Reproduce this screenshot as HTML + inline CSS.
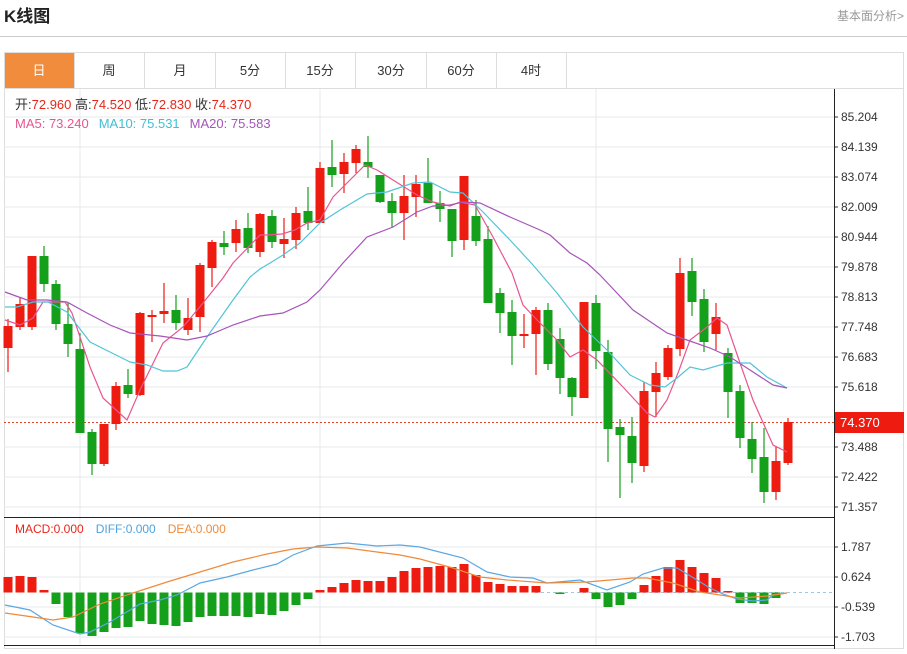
<!DOCTYPE html>
<html><head><meta charset="utf-8"><style>
body{margin:0;background:#fff;width:907px;height:649px;overflow:hidden;font-family:"Liberation Sans","Noto Sans CJK SC",sans-serif;}
</style></head><body>
<svg width="907" height="649" xmlns="http://www.w3.org/2000/svg" font-family="Liberation Sans, Noto Sans CJK SC, sans-serif">
<text x="4" y="22" font-size="17" font-weight="bold" fill="#222">K线图</text>
<text x="904" y="20" font-size="12" fill="#999" text-anchor="end">基本面分析&gt;</text>
<line x1="0" y1="36.5" x2="907" y2="36.5" stroke="#ccc"/>
<rect x="4.5" y="52.5" width="899" height="596" fill="none" stroke="#ddd"/>
<line x1="4" y1="88.5" x2="904" y2="88.5" stroke="#ddd"/>
<rect x="5" y="53" width="69" height="35" fill="#f18c3c"/>
<g stroke="#ddd"><line x1="74.5" y1="52" x2="74.5" y2="88"/><line x1="144.5" y1="52" x2="144.5" y2="88"/><line x1="215.5" y1="52" x2="215.5" y2="88"/><line x1="285.5" y1="52" x2="285.5" y2="88"/><line x1="355.5" y1="52" x2="355.5" y2="88"/><line x1="426.5" y1="52" x2="426.5" y2="88"/><line x1="496.5" y1="52" x2="496.5" y2="88"/><line x1="566.5" y1="52" x2="566.5" y2="88"/></g>
<g font-size="13" text-anchor="middle" fill="#333"><text x="39" y="75" fill="#fff">日</text><text x="109" y="75">周</text><text x="180" y="75">月</text><text x="250" y="75">5分</text><text x="320" y="75">15分</text><text x="391" y="75">30分</text><text x="461" y="75">60分</text><text x="531" y="75">4时</text></g>
<g stroke="#e6eaee"><line x1="4" y1="117" x2="834" y2="117"/><line x1="4" y1="147" x2="834" y2="147"/><line x1="4" y1="177" x2="834" y2="177"/><line x1="4" y1="207" x2="834" y2="207"/><line x1="4" y1="237" x2="834" y2="237"/><line x1="4" y1="267" x2="834" y2="267"/><line x1="4" y1="297" x2="834" y2="297"/><line x1="4" y1="327" x2="834" y2="327"/><line x1="4" y1="357" x2="834" y2="357"/><line x1="4" y1="387" x2="834" y2="387"/><line x1="4" y1="417" x2="834" y2="417"/><line x1="4" y1="447" x2="834" y2="447"/><line x1="4" y1="477" x2="834" y2="477"/><line x1="4" y1="507" x2="834" y2="507"/>
<line x1="4" y1="547" x2="834" y2="547"/><line x1="4" y1="577" x2="834" y2="577"/><line x1="4" y1="607" x2="834" y2="607"/><line x1="4" y1="637" x2="834" y2="637"/>
<line x1="80" y1="89" x2="80" y2="645"/><line x1="320" y1="89" x2="320" y2="645"/><line x1="596" y1="89" x2="596" y2="645"/></g>
<g font-size="12" fill="#333"><text x="841" y="121">85.204</text><text x="841" y="151">84.139</text><text x="841" y="181">83.074</text><text x="841" y="211">82.009</text><text x="841" y="241">80.944</text><text x="841" y="271">79.878</text><text x="841" y="301">78.813</text><text x="841" y="331">77.748</text><text x="841" y="361">76.683</text><text x="841" y="391">75.618</text><text x="841" y="421">74.553</text><text x="841" y="451">73.488</text><text x="841" y="481">72.422</text><text x="841" y="511">71.357</text>
<text x="841" y="551">1.787</text><text x="841" y="581">0.624</text><text x="841" y="611">-0.539</text><text x="841" y="641">-1.703</text></g>
<g stroke="#333"><line x1="834" y1="117" x2="838" y2="117"/><line x1="834" y1="147" x2="838" y2="147"/><line x1="834" y1="177" x2="838" y2="177"/><line x1="834" y1="207" x2="838" y2="207"/><line x1="834" y1="237" x2="838" y2="237"/><line x1="834" y1="267" x2="838" y2="267"/><line x1="834" y1="297" x2="838" y2="297"/><line x1="834" y1="327" x2="838" y2="327"/><line x1="834" y1="357" x2="838" y2="357"/><line x1="834" y1="387" x2="838" y2="387"/><line x1="834" y1="447" x2="838" y2="447"/><line x1="834" y1="477" x2="838" y2="477"/><line x1="834" y1="507" x2="838" y2="507"/><line x1="834" y1="547" x2="838" y2="547"/><line x1="834" y1="577" x2="838" y2="577"/><line x1="834" y1="607" x2="838" y2="607"/><line x1="834" y1="637" x2="838" y2="637"/></g>
<line x1="834.5" y1="89" x2="834.5" y2="649" stroke="#222"/>
<line x1="4" y1="517.5" x2="834" y2="517.5" stroke="#222"/>
<line x1="4" y1="645.5" x2="834" y2="645.5" stroke="#222"/>
<line x1="4" y1="422.5" x2="834" y2="422.5" stroke="#e8402e" stroke-dasharray="2,2"/>
<rect x="835" y="412" width="69" height="21" fill="#ee1c10"/>
<text x="840" y="427" font-size="13" fill="#fff">74.370</text>
<line x1="535" y1="592.5" x2="834" y2="592.5" stroke="#9cc8e8" stroke-dasharray="3,3"/>
<g id="candles"></g>
<g id="macd"></g>
<polyline fill="none" stroke="#e9558f" stroke-width="1.2" points="5,320 20,325 33,318 43,302 65,302 72,313 90,367 103,398 127,420 140,390 163,343 183,327 203,303 223,278 233,263 260,235 267,235 282,234 295,230 307,223 320,220 333,197 353,177 365,165 377,170 393,180 417,195 433,202 450,206 460,202 475,205 493,237 512,273 523,305 537,320 557,340 570,357 583,350 597,360 623,387 647,413 655,417 667,400 678,373 690,340 707,327 717,318 727,325 740,363 753,400 773,445 787,452"/>
<polyline fill="none" stroke="#52c4d6" stroke-width="1.2" points="5,307 17,307 33,302 48,302 67,312 90,342 110,352 130,362 147,365 163,371 177,371 187,367 207,337 233,300 250,277 260,269 270,263 283,255 300,243 320,223 340,210 367,194 387,192 413,183 430,182 450,192 463,193 483,212 510,240 533,265 557,293 583,327 607,350 630,375 650,385 665,387 677,378 690,367 703,370 727,363 750,363 767,377 787,388"/>
<polyline fill="none" stroke="#a654b8" stroke-width="1.2" points="5,292 27,300 47,300 67,302 87,313 110,325 130,333 160,336 187,340 207,336 233,325 260,316 283,313 307,302 320,290 343,263 367,237 393,227 417,212 433,206 450,205 463,202 480,203 510,217 540,230 550,235 570,253 587,263 600,275 633,310 667,333 687,340 710,348 730,357 750,370 773,385 787,388"/>
<polyline fill="none" stroke="#5aa8e4" stroke-width="1.2" points="5,605 30,610 53,625 80,634 90,632 110,622 140,604 160,600 177,595 200,583 227,577 253,570 277,564 293,555 317,546 347,543 377,546 400,545 420,547 463,558 487,572 510,577 533,578 547,583 580,580 607,590 630,582 643,574 663,568 677,568 697,580 710,588 723,594 737,599 753,601 767,600 773,595 787,593"/>
<polyline fill="none" stroke="#f08a3a" stroke-width="1.2" points="5,613 33,617 53,620 73,617 100,604 133,593 167,582 200,572 233,562 267,554 293,549 317,547 347,548 377,552 400,555 420,559 453,568 480,577 507,580 547,583 587,582 633,578 647,578 673,583 700,592 720,595 740,598 767,596 787,593"/>
<rect x="10" y="93" width="290" height="38" fill="none"/>
<text x="15" y="109" font-size="13" fill="#333">开:<tspan fill="#e8261a">72.960</tspan>  高:<tspan fill="#e8261a">74.520</tspan>  低:<tspan fill="#e8261a">72.830</tspan>  收:<tspan fill="#e8261a">74.370</tspan></text>
<text x="15" y="128" font-size="13"><tspan fill="#e9558f">MA5: 73.240</tspan><tspan fill="#3fbfd4" dx="10">MA10: 75.531</tspan><tspan fill="#a654b8" dx="10">MA20: 75.583</tspan></text>
<text x="15" y="533" font-size="12"><tspan fill="#e8261a">MACD:0.000</tspan><tspan fill="#4fa3e0" dx="12">DIFF:0.000</tspan><tspan fill="#f08a3a" dx="12">DEA:0.000</tspan></text>
</svg>
<script>
var C=[[8,'r',326,348,319,372],[20,'r',304,327,297,330],[32,'r',256,327,256,330],[44,'g',256,284,246,292],[56,'g',284,324,280,330],[68,'g',324,344,303,357],[80,'g',349,433,333,433],[92,'g',432,464,429,475],[104,'r',424,464,424,466],[116,'r',386,424,382,430],[128,'g',385,394,369,398],[140,'r',313,395,312,396],[152,'r',315,317,310,342],[164,'r',311,314,283,323],[176,'g',310,323,295,330],[188,'r',318,330,298,335],[200,'r',265,317,263,332],[212,'r',242,268,240,287],[224,'g',243,247,231,255],[236,'r',229,243,220,252],[248,'g',228,248,213,253],[260,'r',214,252,213,257],[272,'g',216,242,210,248],[284,'r',239,244,218,258],[296,'r',213,240,207,249],[308,'g',211,223,187,230],[320,'r',168,223,162,223],[332,'g',167,175,140,187],[344,'r',162,174,153,193],[356,'r',149,163,145,173],[368,'g',162,167,136,178],[380,'g',175,202,175,203],[392,'g',201,213,193,228],[404,'r',196,213,175,240],[416,'r',184,197,175,217],[428,'g',183,203,158,203],[440,'g',203,209,191,222],[452,'g',209,241,209,257],[464,'r',176,240,176,250],[476,'g',216,241,200,246],[488,'g',239,303,226,303],[500,'g',293,313,288,333],[512,'g',312,336,300,365],[524,'r',334,336,314,348],[536,'r',310,334,307,375],[548,'g',310,364,303,370],[560,'g',339,378,328,394],[572,'g',378,397,377,416],[584,'r',302,398,302,398],[596,'g',303,351,295,369],[608,'g',352,429,340,462],[620,'g',427,435,419,498],[632,'g',436,463,417,483],[644,'r',391,466,382,472],[656,'r',373,392,362,417],[668,'r',348,377,345,380],[680,'r',273,349,258,356],[692,'g',271,302,258,316],[704,'g',299,342,289,352],[716,'r',317,334,303,350],[728,'g',353,392,348,418],[740,'g',391,438,385,448],[752,'g',439,459,422,473],[764,'g',457,492,428,503],[776,'r',461,492,446,500],[788,'r',422,463,418,465]];
var ns='http://www.w3.org/2000/svg',g=document.getElementById('candles'),h='';
C.forEach(function(c){var col=c[1]=='r'?'#ee1c10':'#14a01a';
h+='<line x1="'+c[0]+'" x2="'+c[0]+'" y1="'+c[4]+'" y2="'+c[5]+'" stroke="'+col+'" stroke-width="1.2"/>';
h+='<rect x="'+(c[0]-4.5)+'" y="'+c[2]+'" width="9" height="'+Math.max(2,c[3]-c[2])+'" fill="'+col+'"/>';});
g.innerHTML=h;
var M={0:577,1:576,2:577,3:590,4:604,5:617,6:633,7:636,8:632,9:628,10:627,11:621,12:624,13:625,14:626,15:622,16:617,17:616,18:616,19:616,20:617,21:614,22:615,23:611,24:605,25:599,26:590,27:587,28:583,29:580,30:581,31:581,32:577,33:571,34:568,35:567,36:566,37:567,38:564,39:575,40:582,41:584,42:586,43:586,44:586,46:594,48:588,49:599,50:607,51:605,52:599,53:585,54:576,55:567,56:560,57:567,58:573,59:578,60:591,61:603,62:603,63:604,64:598};
var z=592.5,m='';for(var i in M){var x=8+12*i,v=M[i];var up=v<z;m+='<rect x="'+(x-4.5)+'" y="'+(up?v:z)+'" width="9" height="'+Math.max(1,Math.abs(v-z))+'" fill="'+(up?'#ee1c10':'#14a01a')+'"/>';}
document.getElementById('macd').innerHTML=m;
</script>
</body></html>
